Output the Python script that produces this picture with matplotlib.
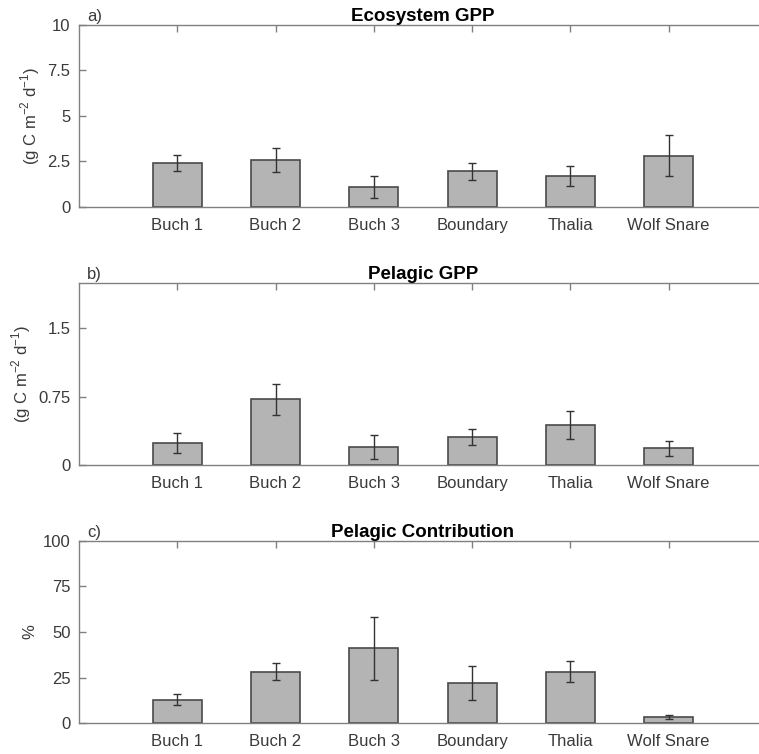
import matplotlib
matplotlib.use("Agg")
import matplotlib.pyplot as plt
import numpy as np

plt.rcParams['font.family'] = ['Liberation Sans', 'DejaVu Sans']

sites = ["Buch 1", "Buch 2", "Buch 3", "Boundary", "Thalia", "Wolf Snare"]

eco_gpp = [2.42, 2.58, 1.10, 1.95, 1.70, 2.82]
eco_gpp_err = [0.42, 0.65, 0.58, 0.47, 0.55, 1.13]

pel_gpp = [0.245, 0.72, 0.20, 0.305, 0.44, 0.183]
pel_gpp_err = [0.11, 0.17, 0.135, 0.085, 0.15, 0.08]

pel_contrib = [12.8, 28.3, 41.1, 22.1, 28.3, 3.3]
pel_contrib_err = [3.0, 4.5, 17.4, 9.2, 5.7, 0.9]

panels = [
    ("a)", "Ecosystem GPP", eco_gpp, eco_gpp_err, (0, 10), [0, 2.5, 5, 7.5, 10],
     ["0", "2.5", "5", "7.5", "10"], r"(g C m$^{\mathregular{-2}}$ d$^{\mathregular{-1}}$)"),
    ("b)", "Pelagic GPP", pel_gpp, pel_gpp_err, (0, 2), [0, 0.75, 1.5],
     ["0", "0.75", "1.5"], r"(g C m$^{\mathregular{-2}}$ d$^{\mathregular{-1}}$)"),
    ("c)", "Pelagic Contribution", pel_contrib, pel_contrib_err, (0, 100), [0, 25, 50, 75, 100],
     ["0", "25", "50", "75", "100"], "%"),
]

fig = plt.figure(figsize=(7.59, 7.54), dpi=100)
bottoms = [0.7255, 0.3833, 0.0411]
height = 0.2414
left = 0.104
width = 1.0105 - left

text_col = "#3a3a3a"
spine_col = "#808080"
x = np.arange(1, len(sites) + 1)

for (lab, title, vals, errs, ylim, yt, ytl, ylabel), b in zip(panels, bottoms):
    ax = fig.add_axes([left, b, width, height])
    ax.bar(x, vals, width=0.5, color="#b4b4b4", edgecolor="#4a4a4a", linewidth=1.2, zorder=2)
    ax.errorbar(x, vals, yerr=errs, fmt="none", ecolor="#333333", elinewidth=1.0,
                capsize=3, capthick=1.0, zorder=3)
    ax.set_xlim(0, 7)
    ax.set_ylim(*ylim)
    ax.set_xticks(x)
    ax.set_xticklabels(sites)
    ax.set_yticks(yt)
    ax.set_yticklabels(ytl)
    ax.tick_params(axis="both", direction="in", length=5, width=1, colors=spine_col,
                   labelcolor=text_col, labelsize=12, pad=6)
    ax.tick_params(axis="x", top=True, pad=8)
    for s in ["left", "bottom", "top"]:
        ax.spines[s].set_color(spine_col)
        ax.spines[s].set_linewidth(1.0)
    ax.spines["right"].set_visible(False)
    ax.set_ylabel(ylabel, fontsize=12, color=text_col, labelpad=4)
    ax.set_title(title, fontsize=13.5, fontweight="bold", color="black", pad=3)
    ax.text(0.012, 1.005, lab, transform=ax.transAxes, fontsize=12, color=text_col,
            ha="left", va="bottom")

fig.savefig("out.png", dpi=100)
